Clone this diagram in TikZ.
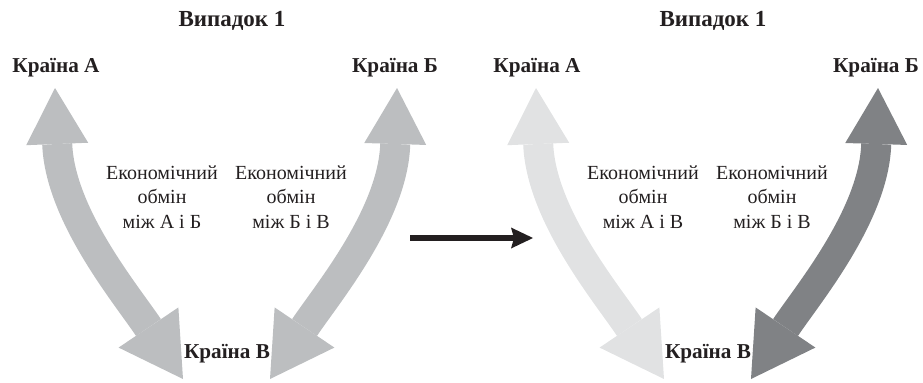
\documentclass[tikz,border=0pt]{standalone}
\usepackage{fontspec}
\setmainfont{Liberation Serif}
\usepackage{tikz}
\usetikzlibrary{arrows.meta, positioning}
\definecolor{ink}{HTML}{231F20}
\definecolor{midgrey}{HTML}{BCBEC0}
\definecolor{lightgrey}{HTML}{E1E2E3}
\definecolor{darkgrey}{HTML}{808285}
\tikzstyle{title} = [font=\fontsize{11.5}{14}\selectfont\bfseries, text=ink, anchor=base]
\tikzstyle{country} = [font=\fontsize{10.6}{13}\selectfont\bfseries, text=ink, anchor=base]
\tikzstyle{note} = [font=\fontsize{10}{12.25}\selectfont, text=ink, align=center]
\tikzstyle{flow} = [draw, line width=15pt, {Triangle[length=28pt,width=31pt,line width=0pt]}-{Triangle[length=31pt,width=36pt,line width=0pt]}]
\tikzstyle{move} = [draw=ink, line width=3pt, -{Stealth[length=11pt,width=10.5pt,inset=1.5pt,line width=0pt]}]

\begin{document}
\begin{tikzpicture}[x=0.5pt, y=-0.5pt]
				\useasboundingbox (0,0) rectangle (923,382);

				% case before
				\node [title] (case1) at (232,26) {Випадок 1};
				\node [country] (a1) at (56,72) {Країна А};
				\node [country] (b1) at (395,72) {Країна Б};
				\node [country] (v1) at (227,358) {Країна В};
				\node [note] (ab1) at (162,197) {Економічний\\обмін\\між А і Б};
				\node [note] (bv1) at (291,197) {Економічний\\обмін\\між Б і В};
				\coordinate (a1end) at (55,88);
				\coordinate (b1end) at (397,88);
				\coordinate (v1left) at (183,379);
				\coordinate (v1right) at (270,379);

				% case after
				\node [title] (case2) at (713,26) {Випадок 1};
				\node [country] (a2) at (537,72) {Країна А};
				\node [country] (b2) at (876,72) {Країна Б};
				\node [country] (v2) at (708,358) {Країна В};
				\node [note] (av2) at (643,197) {Економічний\\обмін\\між А і В};
				\node [note] (bv2) at (772,197) {Економічний\\обмін\\між Б і В};
				\coordinate (a2end) at (536,88);
				\coordinate (b2end) at (878,88);
				\coordinate (v2left) at (664,379);
				\coordinate (v2right) at (751,379);

				\coordinate (from) at (410,238);
				\coordinate (to) at (533,238);

				\path [flow, draw=midgrey] (a1end) .. controls (60,215) and (126,294) .. (v1left);
				\path [flow, draw=midgrey] (b1end) .. controls (393,215) and (327,294) .. (v1right);
				\path [flow, draw=lightgrey] (a2end) .. controls (541,215) and (607,294) .. (v2left);
				\path [flow, draw=darkgrey] (b2end) .. controls (874,215) and (808,294) .. (v2right);
				\path [move] (from) -- (to);
			\end{tikzpicture}
\end{document}
